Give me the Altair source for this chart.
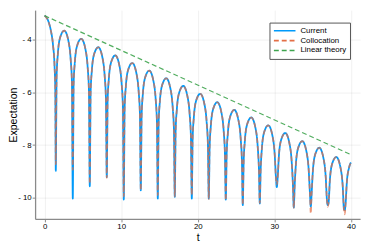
import altair as alt
import pandas as pd

# ---- data ----
t_current = [0.0, 0.5, 0.8, 1.1, 1.3, 1.4, 1.46,
             1.57, 1.73, 2.02, 2.57, 3.13, 3.41, 3.57, 3.68,
             3.79, 3.95, 4.24, 4.79, 5.35, 5.63, 5.79, 5.90,
             6.01, 6.17, 6.46, 7.01, 7.57, 7.85, 8.01, 8.12,
             8.23, 8.39, 8.68, 9.23, 9.79, 10.07, 10.23, 10.34,
             10.45, 10.61, 10.90, 11.45, 12.01, 12.29, 12.45, 12.56,
             12.67, 12.83, 13.12, 13.67, 14.23, 14.51, 14.67, 14.78,
             14.89, 15.05, 15.34, 15.89, 16.45, 16.73, 16.89, 17.00,
             17.11, 17.27, 17.56, 18.11, 18.67, 18.95, 19.11, 19.22,
             19.33, 19.49, 19.78, 20.33, 20.89, 21.17, 21.33, 21.44,
             21.55, 21.71, 22.00, 22.55, 23.11, 23.39, 23.55, 23.66,
             23.77, 23.93, 24.22, 24.77, 25.33, 25.61, 25.77, 25.88,
             25.99, 26.15, 26.44, 26.99, 27.55, 27.83, 27.99, 28.10,
             28.21, 28.37, 28.66, 29.21, 29.77, 30.05, 30.21, 30.32,
             30.43, 30.59, 30.88, 31.43, 31.99, 32.27, 32.43, 32.54,
             32.65, 32.81, 33.10, 33.65, 34.21, 34.49, 34.65, 34.76,
             34.87, 35.03, 35.32, 35.87, 36.43, 36.71, 36.87, 36.98,
             37.09, 37.25, 37.54, 38.09, 38.65, 38.93, 39.09, 39.20,
             39.31, 39.47, 39.76, 40.0]

v_current = [-3.08, -3.30, -3.62, -4.20, -5.00, -5.98, -8.98,
             -5.38, -4.54, -3.92, -3.65, -4.07, -4.76, -5.64, -10.03,
             -5.69, -4.85, -4.23, -3.96, -4.38, -5.07, -5.95, -9.57,
             -6.01, -5.17, -4.55, -4.28, -4.70, -5.39, -6.27, -9.22,
             -6.32, -5.48, -4.86, -4.59, -5.01, -5.70, -6.58, -10.07,
             -6.61, -5.77, -5.15, -4.88, -5.30, -5.99, -6.87, -9.72,
             -6.90, -6.06, -5.44, -5.17, -5.59, -6.28, -7.16, -10.03,
             -7.19, -6.35, -5.73, -5.46, -5.88, -6.57, -7.45, -9.97,
             -7.48, -6.64, -6.02, -5.75, -6.17, -6.86, -7.74, -10.03,
             -7.78, -6.94, -6.32, -6.05, -6.47, -7.16, -8.04, -10.03,
             -8.10, -7.26, -6.64, -6.37, -6.79, -7.48, -8.36, -10.07,
             -8.39, -7.55, -6.93, -6.66, -7.08, -7.77, -8.65, -10.28,
             -8.68, -7.84, -7.22, -6.95, -7.37, -8.06, -8.94, -10.22,
             -8.98, -8.14, -7.52, -7.25, -7.67, -8.36, -9.24, -9.60,
             -9.27, -8.43, -7.81, -7.54, -7.96, -8.65, -9.53, -10.37,
             -9.58, -8.74, -8.12, -7.85, -8.27, -8.96, -9.84, -10.34,
             -9.83, -8.99, -8.37, -8.10, -8.52, -9.21, -10.09, -10.28,
             -10.18, -9.34, -8.72, -8.45, -8.87, -9.56, -10.44, -10.47,
             -10.20, -9.40, -8.85, -8.66]

# collocation follows the current curve, but its sharp minima differ
dip_t = [1.46, 3.68, 5.90, 8.12, 10.34, 12.56, 14.78, 17.00, 19.22,
         21.44, 23.66, 25.88, 28.10, 30.32, 32.54, 34.76, 36.98, 39.20]
collocation_dips = [-8.73, -8.94, -9.47, -9.25, -9.95, -9.72, -9.90, -9.95, -9.90,
                    -10.05, -10.10, -10.28, -10.20, -9.50, -10.40, -10.60, -10.34, -10.63]

t_linear = [0.0, 40.0]
v_linear = [-3.08, -8.36]

series_names = ["Current", "Collocation", "Linear theory"]
series_colors = ["#009AFA", "#E36F47", "#3EA44E"]
series_dashes = [[1, 0], [5, 3], [5, 3]]

x_ticks = [0, 10, 20, 30, 40]
y_ticks = [-10, -8, -6, -4]

# ---- tables ----
v_colloc = [collocation_dips[dip_t.index(t)] if t in dip_t else v
            for t, v in zip(t_current, v_current)]

df_cur = pd.DataFrame({"t": t_current, "v": v_current, "series": "Current"})
df_col = pd.DataFrame({"t": t_current, "v": v_colloc, "series": "Collocation"})
df_lin = pd.DataFrame({"t": t_linear, "v": v_linear, "series": "Linear theory"})

FONT = "Liberation Sans"
W, H = 331, 212.7

x_enc = alt.X("t:Q", scale=alt.Scale(domain=[-1.24, 41.2], nice=False, zero=False),
              axis=alt.Axis(values=x_ticks, title="t", titleX=W / 2, titleY=18.6,
                            titleBaseline="middle", titleAlign="center"))
y_enc = alt.Y("v:Q", scale=alt.Scale(domain=[-10.806, -2.87], nice=False, zero=False),
              axis=alt.Axis(values=y_ticks, title="Expectation",
                            labelExpr="'- ' + abs(datum.value)",
                            titleX=-21.5, titleY=H / 2, titleAngle=-90,
                            titleBaseline="middle", titleAlign="center"))

legend = alt.Legend(title=None, orient="none", legendX=238.7, legendY=12.7,
                    symbolType="stroke", symbolSize=484, symbolStrokeWidth=1.6,
                    clipHeight=9.8, rowPadding=0, labelOffset=4, padding=3.5,
                    strokeColor="#555555", fillColor="#ffffff", labelFontSize=8,
                    labelFont=FONT, labelColor="#000000")

color_enc = alt.Color("series:N", scale=alt.Scale(domain=series_names, range=series_colors),
                      legend=legend)
dash_enc = alt.StrokeDash("series:N", scale=alt.Scale(domain=series_names, range=series_dashes),
                          legend=legend)

base_enc = dict(x=x_enc, y=y_enc, color=color_enc, strokeDash=dash_enc)

cur = alt.Chart(df_cur).mark_line(strokeWidth=1.8, interpolate="monotone").encode(**base_enc)
col = alt.Chart(df_col).mark_line(strokeWidth=1.7, strokeOpacity=0.75,
                                  interpolate="monotone").encode(**base_enc)
lin = alt.Chart(df_lin).mark_line(strokeWidth=1.2, strokeOpacity=0.9).encode(**base_enc)

chart = alt.layer(cur, col, lin).properties(
    width=W, height=H,
    autosize=alt.AutoSizeParams(type="none"),
    padding={"left": 27.6, "top": 0, "right": 6, "bottom": 22},
).configure_view(stroke=None).configure_axis(
    labelFont=FONT, labelFontSize=8, labelColor="#000000",
    titleFont=FONT, titleFontSize=10.7, titleFontWeight="normal", titleColor="#000000",
    gridColor="#000000", gridOpacity=0.1, gridWidth=0.6,
    domainColor="#8a8a8a", domainWidth=1.3, tickColor="#8a8a8a", tickSize=3,
    labelPadding=1,
)

chart.save("out.html", embed_options={"renderer": "svg", "actions": False})
